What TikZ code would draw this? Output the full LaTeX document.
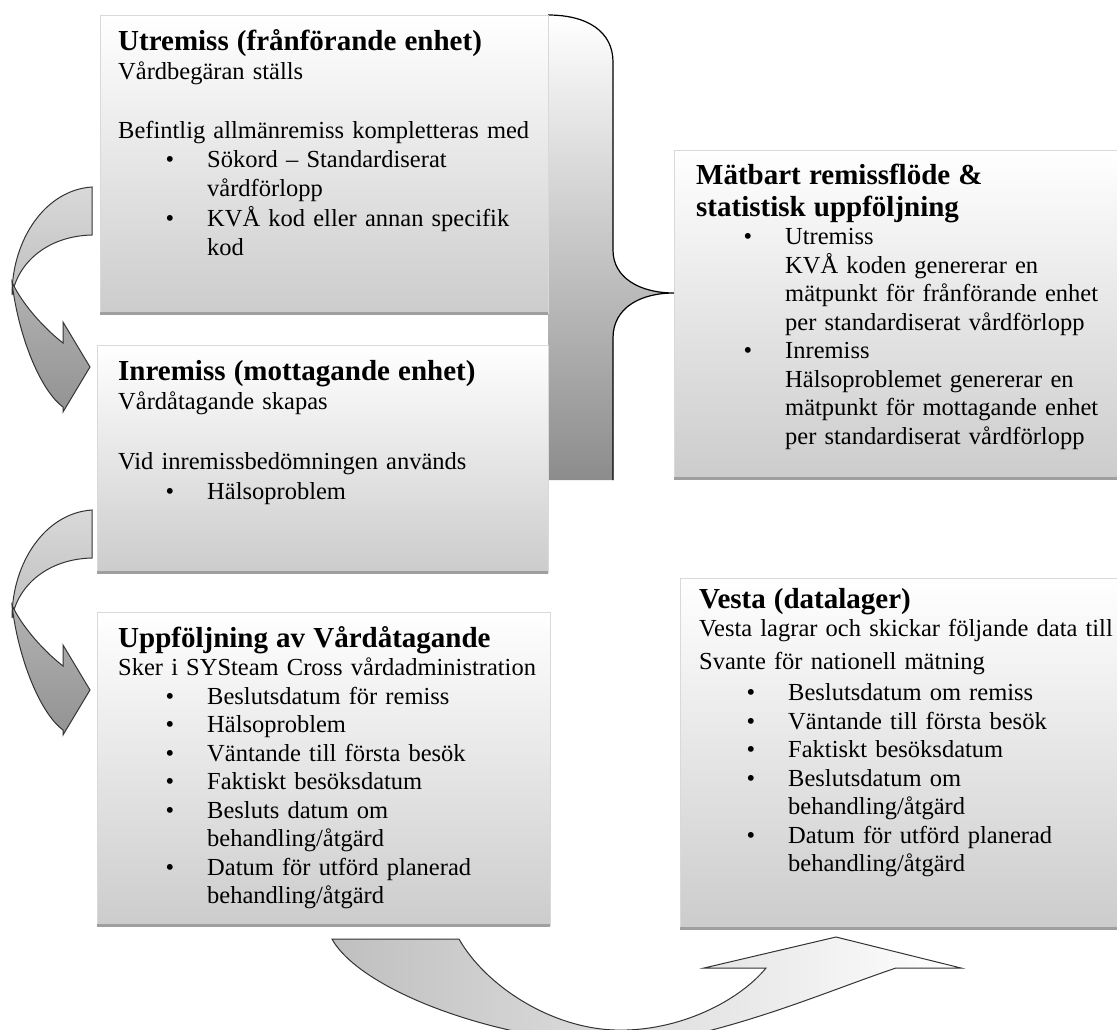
\documentclass[tikz,border=0pt]{standalone}
\usepackage{fontspec}
\setmainfont{Liberation Serif}
\usepackage{enumitem}
\usetikzlibrary{positioning}

\newcommand{\bodyfont}{\fontsize{24.5}{29.3}\selectfont}
\newcommand{\listfont}{\fontsize{24.5}{28.5}\selectfont}
\newcommand{\headfont}{\fontsize{29}{31}\selectfont\bfseries}
\setlist[itemize]{nosep, leftmargin=89pt, labelsep=33pt, label=\textbullet}

\tikzset{
  box/.style={rectangle, inner sep=0pt, outer sep=0pt, anchor=north west,
    draw=gray!30, top color=white, middle color=gray!6, bottom color=gray!40},
  shadowline/.style={draw=gray!75, line width=3pt},
  boxtext/.style={inner sep=0pt, align=left, font=\bodyfont, anchor=north west},
  bandlight/.style={draw=black!80, line width=1pt, top color=gray!30, bottom color=gray!50},
  banddark/.style={draw=black!80, line width=1pt, top color=gray!60, bottom color=gray!85},
}

\begin{document}
\begin{tikzpicture}[x=1pt, y=-1pt]
\useasboundingbox (0,0) rectangle (1117,1029);
\clip (0,0) rectangle (1117,1029);

% brace behind the upper boxes
\shade[top color=white, middle color=gray!22, bottom color=black!45]
  (548,15) .. controls (588,15) and (613,32) .. (613,62) -- (613,250)
  .. controls (613,278) and (640,293) .. (674,293)
  .. controls (640,293) and (613,308) .. (613,338) -- (613,480) -- (548,480) -- cycle;
\draw[line width=1.2pt]
  (548,15) .. controls (588,15) and (613,32) .. (613,62) -- (613,250)
  .. controls (613,278) and (640,293) .. (674,293)
  .. controls (640,293) and (613,308) .. (613,338) -- (613,480);

% boxes
\node[box, minimum width=448pt, minimum height=298pt] (utremiss) at (100,15) {};
\node[box, minimum width=451pt, minimum height=227pt] (inremiss) at (97,345) {};
\node[box, minimum width=453pt, minimum height=313pt] (uppfoljning) at (97,612) {};
\node[box, minimum width=443pt, minimum height=328pt] (matbart) at (674,150) {};
\node[box, minimum width=437pt, minimum height=350pt] (vesta) at (680,578) {};
\foreach \b in {utremiss,inremiss,uppfoljning,matbart,vesta}
  \draw[shadowline] (\b.south west) -- (\b.south east);

% texts
\node[boxtext, text width=425pt, below right=14pt and 18pt of utremiss.north west] (utremisstext) {%
{\headfont Utremiss (frånförande enhet)}\\
Vårdbegäran ställs\\[29.3pt]
Befintlig allmänremiss kompletteras med
\begin{itemize}
\item Sökord – Standardiserat\\ vårdförlopp
\item KVÅ kod eller annan specifik\\ kod
\end{itemize}};

\node[boxtext, text width=425pt, below right=15pt and 21pt of inremiss.north west] (inremisstext) {%
{\headfont Inremiss (mottagande enhet)}\\
Vårdåtagande skapas\\[31pt]
Vid inremissbedömningen används
\begin{itemize}
\item Hälsoproblem
\end{itemize}};

\node[boxtext, font=\listfont, text width=425pt, below right=14pt and 21pt of uppfoljning.north west] (uppfoljningtext) {%
{\headfont Uppföljning av Vårdåtagande}\\
Sker i SYSteam Cross vårdadministration
\begin{itemize}
\item Beslutsdatum för remiss
\item Hälsoproblem
\item Väntande till första besök
\item Faktiskt besöksdatum
\item Besluts datum om\\ behandling/åtgärd
\item Datum för utförd planerad\\ behandling/åtgärd
\end{itemize}};

\node[boxtext, font=\listfont, text width=420pt, below right=14pt and 22pt of matbart.north west] (matbarttext) {%
{\headfont Mätbart remissflöde \&\\[3pt] statistisk uppföljning}
\begin{itemize}
\item Utremiss\\ KVÅ koden genererar en\\ mätpunkt för frånförande enhet\\ per standardiserat vårdförlopp
\item Inremiss\\ Hälsoproblemet genererar en\\ mätpunkt för mottagande enhet\\ per standardiserat vårdförlopp
\end{itemize}};

\node[boxtext, font=\listfont, text width=420pt, below right=10pt and 19pt of vesta.north west] (vestatext) {%
{\headfont Vesta (datalager)}\\
Vesta lagrar och skickar följande data till\\[4pt]
Svante för nationell mätning\\[-26pt]
\begin{itemize}[topsep=3pt]
\item Beslutsdatum om remiss
\item Väntande till första besök
\item Faktiskt besöksdatum
\item Beslutsdatum om\\ behandling/åtgärd
\item Datum för utförd planerad\\ behandling/åtgärd
\end{itemize}};

% curved arrows on the left
\foreach \dy in {0,323} {
  \begin{scope}[shift={(0,\dy)}]
    \draw[bandlight] (92,187) .. controls (45,190) and (12,240) .. (12,295)
      .. controls (18,262) and (48,236) .. (92,235) -- cycle;
    \draw[banddark] (12,282) .. controls (18,335) and (40,390) .. (63,407)
      -- (63,412) -- (90,367) -- (63,322) -- (63,343)
      .. controls (40,325) and (20,300) .. (12,282) -- cycle;
  \end{scope}
}

% U-turn arrow at the bottom
\draw[draw=black!80, line width=1pt, left color=gray!50, middle color=gray!55, right color=white]
  (332,939) -- (459,939)
  .. controls (485,985) and (550,1028) .. (615,1030)
  .. controls (680,1032) and (740,1000) .. (766,968)
  -- (704,968) -- (836,937) -- (961,968) -- (896,968)
  .. controls (830,990) and (740,1030) .. (640,1045)
  .. controls (500,1045) and (360,990) .. (332,939) -- cycle;
\end{tikzpicture}
\end{document}
